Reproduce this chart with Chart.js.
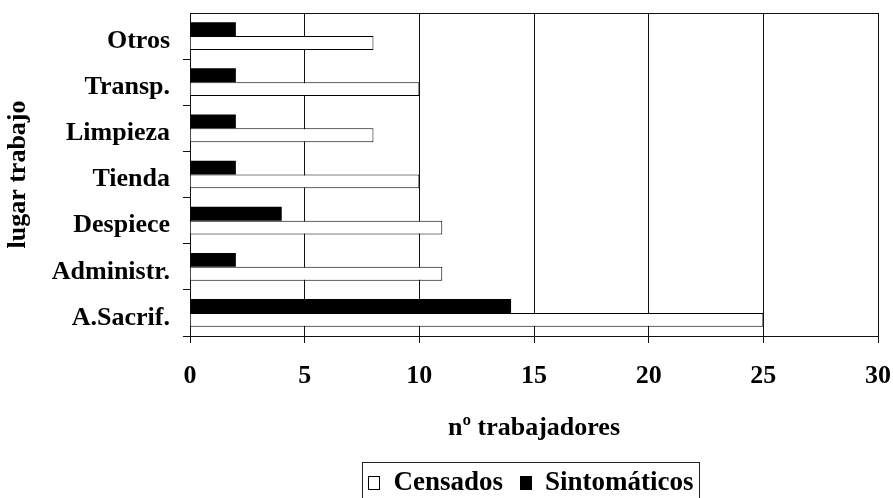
<!DOCTYPE html>
<html><head><meta charset="utf-8">
<script src="https://cdn.jsdelivr.net/npm/chart.js@4/dist/chart.umd.min.js"></script>
<style>html,body{margin:0;padding:0;background:#fff}#wrap{width:893px;height:498px}</style>
</head><body><div id="wrap"><canvas id="c" width="893" height="498"></canvas></div>
<script>
const categories = ['Otros', 'Transp.', 'Limpieza', 'Tienda', 'Despiece', 'Administr.', 'A.Sacrif.'];
const sintomaticos = [2, 2, 2, 2, 4, 2, 14];
const censados = [8, 10, 8, 10, 11, 11, 25];
const xTickValues = [0, 5, 10, 15, 20, 25, 30];
const seriesNames = ['Censados', 'Sintomáticos'];
const axisTitles = { x: 'nº trabajadores', y: 'lugar trabajo' };

const FAMILY = '"Liberation Serif", "Times New Roman", serif';
Chart.defaults.font.family = FAMILY;
Chart.defaults.font.weight = 'bold';
Chart.defaults.color = '#000';

const frameAndLegend = {
  id: 'frameAndLegend',
  afterDraw(chart) {
    const ctx = chart.ctx, a = chart.chartArea;
    ctx.save();
    // top frame line
    ctx.strokeStyle = '#111';
    ctx.lineWidth = 1;
    ctx.beginPath();
    ctx.moveTo(a.left, Math.round(a.top) + 0.5);
    ctx.lineTo(a.right, Math.round(a.top) + 0.5);
    ctx.stroke();
    // legend
    ctx.font = 'bold 27px ' + FAMILY;
    const fills = ['#fff', '#000'];
    const boxW = 12, boxH = 14, gap = 13, itemGap = 17;
    const widths = seriesNames.map(s => ctx.measureText(s).width);
    let total = 0;
    widths.forEach((w, i) => { total += boxW + gap + w + (i ? itemGap : 0); });
    const cx = (a.left + a.right) / 2 - 3;
    let x = cx - total / 2;
    const top = a.bottom + 126, baseline = top + 28;
    ctx.strokeStyle = '#222';
    ctx.strokeRect(Math.round(x - 6) + 0.5, top + 0.5, Math.round(total + 12), 50);
    ctx.textBaseline = 'alphabetic';
    ctx.textAlign = 'left';
    seriesNames.forEach((s, i) => {
      ctx.fillStyle = fills[i];
      ctx.fillRect(Math.round(x), baseline - boxH, boxW, boxH);
      ctx.strokeStyle = '#000';
      ctx.strokeRect(Math.round(x) + 0.5, baseline - boxH + 0.5, boxW - 1, boxH - 1);
      x += boxW + gap;
      ctx.fillStyle = '#000';
      ctx.fillText(s, x, baseline);
      x += widths[i] + itemGap;
    });
    ctx.restore();
  }
};

new Chart(document.getElementById('c'), {
  type: 'bar',
  data: {
    labels: categories,
    datasets: [
      { label: seriesNames[1], data: sintomaticos, backgroundColor: '#000', borderColor: '#000', borderWidth: 0,
        categoryPercentage: 0.6, barPercentage: 1 },
      { label: seriesNames[0], data: censados, backgroundColor: '#fff', borderColor: '#000', borderWidth: 1,
        categoryPercentage: 0.6, barPercentage: 1 }
    ]
  },
  options: {
    indexAxis: 'y',
    responsive: false,
    animation: false,
    devicePixelRatio: 1,
    layout: { padding: { left: 0, right: 15, top: 13, bottom: 40 } },
    plugins: { legend: { display: false }, tooltip: { enabled: false } },
    scales: {
      x: {
        min: 0, max: 30,
        afterBuildTicks(scale) { scale.ticks = xTickValues.map(v => ({ value: v })); },
        afterFit(scale) { scale.height = 122; scale.paddingLeft = 0; scale.paddingRight = 0; },
        grid: { color: '#111', lineWidth: 1, tickLength: 7, drawTicks: true },
        border: { display: true, color: '#111', width: 1 },
        ticks: { font: { size: 26, weight: 'bold' }, padding: 18, maxRotation: 0 },
        title: { display: true, text: axisTitles.x, font: { size: 26, weight: 'bold' }, padding: { top: 0, bottom: 14 } }
      },
      y: {
        afterFit(scale) { scale.width = 190; scale.paddingTop = 0; scale.paddingBottom = 0; },
        grid: { color: c => (c.index === 0 ? 'rgba(0,0,0,0)' : '#111'), drawOnChartArea: false, drawTicks: true, tickLength: 7, offset: true },
        border: { display: true, color: '#111', width: 1 },
        ticks: { font: { size: 26, weight: 'bold' }, padding: 13, labelOffset: 5 },
        title: { display: true, text: axisTitles.y, font: { size: 26, weight: 'bold' }, padding: { top: 3, bottom: 0 } }
      }
    }
  },
  plugins: [frameAndLegend]
});
</script>
</body></html>
